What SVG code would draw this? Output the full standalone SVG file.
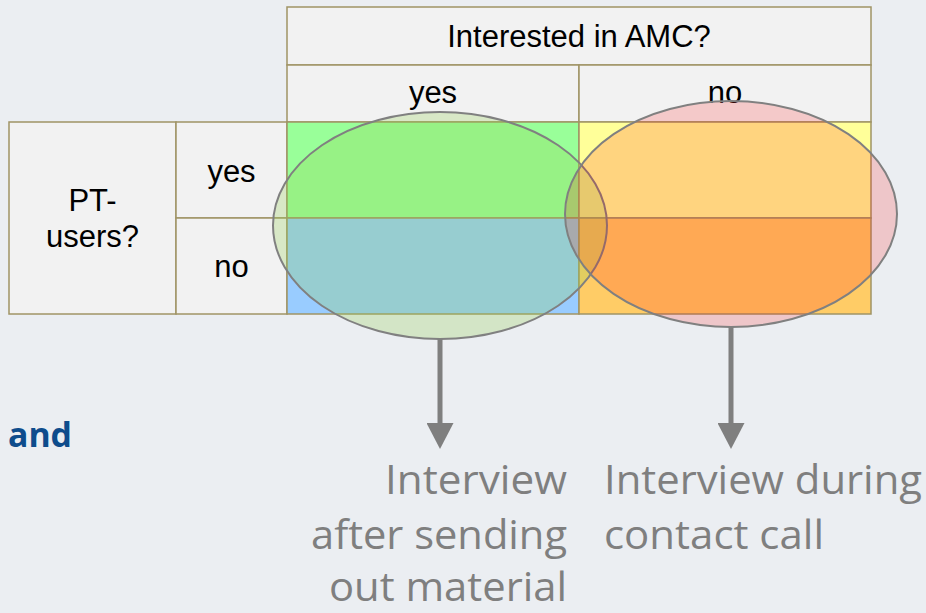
<svg xmlns="http://www.w3.org/2000/svg" width="926" height="613" viewBox="0 0 926 613">
  <defs>
    <style>
      .cell { fill: #F2F2F2; stroke: #A09466; stroke-width: 1.5; }
      .tbl { font-family: "Liberation Sans", Arial, sans-serif; font-size: 31px; fill: #000; text-anchor: middle; }
      .ell { stroke: #808080; stroke-width: 2; }
      .lbl { font-family: "Open Sans", "Noto Sans", sans-serif; font-size: 41px; fill: #7F7F7F; }
      .conn { stroke: #7F7F7F; stroke-width: 5; fill: none; marker-end: url(#arrow); }
    </style>
    <marker id="arrow" markerUnits="userSpaceOnUse" viewBox="0 0 26 27" markerWidth="26" markerHeight="27" refX="0" refY="13.5" orient="auto">
      <path d="M0,0 L26,13.5 L0,27 z" fill="#7F7F7F"/>
    </marker>
  </defs>
  <rect x="0" y="0" width="926" height="613" fill="#EBEEF2"/>

  <g id="header-interested">
    <rect class="cell" x="287" y="7" width="584" height="58"/>
    <text class="tbl" x="579" y="47">Interested in AMC?</text>
  </g>
  <g id="header-yes">
    <rect class="cell" x="287" y="65" width="292" height="57"/>
    <text class="tbl" x="433" y="103">yes</text>
  </g>
  <g id="header-no">
    <rect class="cell" x="579" y="65" width="292" height="57"/>
    <text class="tbl" x="725" y="103">no</text>
  </g>
  <g id="pt-users">
    <rect class="cell" x="9" y="122" width="167" height="192"/>
    <text class="tbl" x="92.5" y="211">PT-</text>
    <text class="tbl" x="92.5" y="247">users?</text>
  </g>
  <g id="row-yes">
    <rect class="cell" x="176" y="122" width="111" height="96"/>
    <text class="tbl" x="231.5" y="182">yes</text>
  </g>
  <g id="row-no">
    <rect class="cell" x="176" y="218" width="111" height="96"/>
    <text class="tbl" x="231.5" y="277">no</text>
  </g>
  <g id="cell-yes-yes">
    <rect class="cell" x="287" y="122" width="292" height="96" style="fill:#99FF99"/>
  </g>
  <g id="cell-no-yes">
    <rect class="cell" x="287" y="218" width="292" height="96" style="fill:#99CCFF"/>
  </g>
  <g id="cell-yes-no">
    <rect class="cell" x="579" y="122" width="292" height="96" style="fill:#FFFF99"/>
  </g>
  <g id="cell-no-no">
    <rect class="cell" x="579" y="218" width="292" height="96" style="fill:#FFCC66"/>
  </g>

  <g id="ellipse-send-material">
    <ellipse class="ell" cx="440" cy="225.5" rx="167" ry="113.5" fill="rgba(146,208,80,0.27)"/>
  </g>
  <g id="ellipse-contact-call">
    <ellipse class="ell" cx="731" cy="214" rx="166" ry="113" fill="rgba(255,0,0,0.17)"/>
  </g>

  <g id="connectors">
    <line class="conn" x1="440" y1="339" x2="440" y2="423"/>
    <line class="conn" x1="731" y1="327" x2="731" y2="423"/>
  </g>

  <g id="label-after-sending">
    <text class="lbl" x="567" y="494" text-anchor="end" textLength="182" lengthAdjust="spacingAndGlyphs">Interview</text>
    <text class="lbl" x="567" y="549" text-anchor="end" textLength="256" lengthAdjust="spacingAndGlyphs">after sending</text>
    <text class="lbl" x="567" y="601" text-anchor="end" textLength="238" lengthAdjust="spacingAndGlyphs">out material</text>
  </g>
  <g id="label-contact-call">
    <text class="lbl" x="604" y="494" textLength="318" lengthAdjust="spacingAndGlyphs">Interview during</text>
    <text class="lbl" x="604" y="549" textLength="220" lengthAdjust="spacingAndGlyphs">contact call</text>
  </g>
  <g id="label-and">
    <text x="8" y="447" font-family="'Open Sans', 'Noto Sans', sans-serif" font-weight="bold" font-size="34" fill="#0E4C8C" textLength="64" lengthAdjust="spacingAndGlyphs">and</text>
  </g>
</svg>
